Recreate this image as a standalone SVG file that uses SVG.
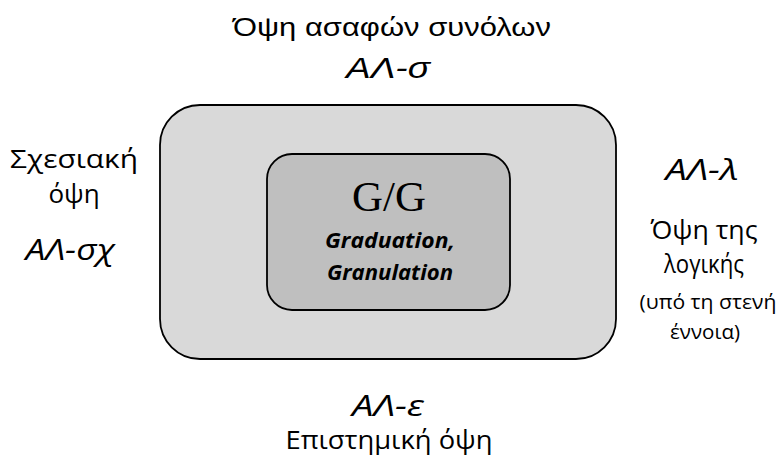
<svg xmlns="http://www.w3.org/2000/svg" width="777" height="464" viewBox="0 0 777 464">
<style>
text{font-family:"Open Sans","Noto Sans","DejaVu Sans",sans-serif;fill:#000;text-anchor:middle}
.lbl{font-size:26px}
.it{font-size:29px;font-style:italic}
.sm{font-size:20px}
.bi{font-size:22px;font-weight:bold;font-style:italic}
.gg{font-family:"Liberation Serif",serif;font-size:42px}
.cond{font-family:"Liberation Sans",sans-serif}
</style>
<rect width="777" height="464" fill="#fff"/>
<g id="outer">
<rect x="160" y="105" width="456" height="254" rx="40" ry="40" fill="#d9d9d9" stroke="#000" stroke-width="1.8"/>
</g>
<g id="inner">
<rect x="267" y="154" width="243" height="156" rx="25" ry="25" fill="#bfbfbf" stroke="#000" stroke-width="1.8"/>
<text class="gg" x="389" y="211" textLength="74" lengthAdjust="spacingAndGlyphs">G/G</text>
<text class="bi" x="390" y="248" textLength="130" lengthAdjust="spacingAndGlyphs">Graduation,</text>
<text class="bi" x="390" y="280" textLength="126" lengthAdjust="spacingAndGlyphs">Granulation</text>
</g>
<g id="top">
<text class="lbl cond" x="392" y="36" textLength="318" lengthAdjust="spacingAndGlyphs">Όψη ασαφών συνόλων</text>
<text class="it cond" x="388" y="78" textLength="84" lengthAdjust="spacingAndGlyphs">ΑΛ-σ</text>
</g>
<g id="left">
<text class="lbl" x="74" y="168" textLength="128" lengthAdjust="spacingAndGlyphs">Σχεσιακή</text>
<text class="lbl" x="74" y="203">όψη</text>
<text class="it" x="70" y="260" textLength="89" lengthAdjust="spacingAndGlyphs">ΑΛ-σχ</text>
</g>
<g id="right">
<text class="it" x="702" y="180" textLength="73" lengthAdjust="spacingAndGlyphs">ΑΛ-λ</text>
<text class="lbl" x="704" y="239" textLength="107" lengthAdjust="spacingAndGlyphs">Όψη της</text>
<text class="lbl" x="704" y="273" textLength="80" lengthAdjust="spacingAndGlyphs">λογικής</text>
<text class="sm" x="708" y="309" textLength="137" lengthAdjust="spacingAndGlyphs">(υπό τη στενή</text>
<text class="sm" x="705" y="339" textLength="70" lengthAdjust="spacingAndGlyphs">έννοια)</text>
</g>
<g id="bottom">
<text class="it" x="388" y="416" textLength="72" lengthAdjust="spacingAndGlyphs">ΑΛ-ε</text>
<text class="lbl" x="389" y="449" textLength="207" lengthAdjust="spacingAndGlyphs">Επιστημική όψη</text>
</g>
<g id="connectors"></g>
</svg>
